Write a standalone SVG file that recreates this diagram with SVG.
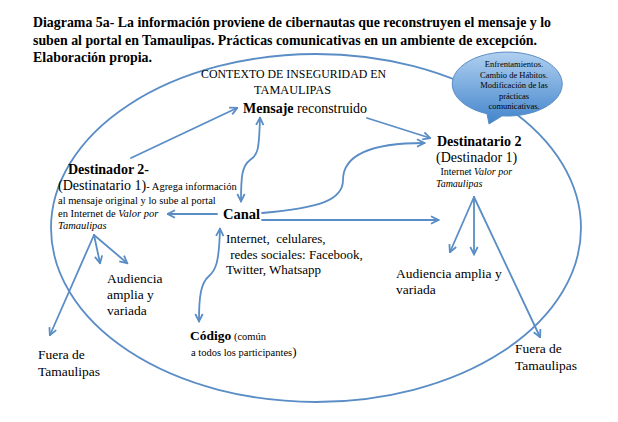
<svg xmlns="http://www.w3.org/2000/svg" width="618" height="422" viewBox="0 0 618 422">
<style>
.t{font-family:"Liberation Serif","Times New Roman",serif;fill:#000}
.b{font-weight:bold}
.i{font-style:italic}
.ln{fill:none;stroke:#5a8dc6;stroke-width:1.8;stroke-linecap:round}
.ar{marker-end:url(#ah)}
.da{marker-start:url(#ah);marker-end:url(#ah)}
</style>
<defs>
<marker id="ah" viewBox="0 0 10 10" refX="8.5" refY="5" markerWidth="10" markerHeight="10" markerUnits="userSpaceOnUse" orient="auto-start-reverse">
<path d="M1.5,1.3 L8.8,5 L1.5,8.7" fill="none" stroke="#5a8dc6" stroke-width="1.8" stroke-linejoin="miter"/>
</marker>
<linearGradient id="bub" x1="0" y1="0" x2="0" y2="1">
<stop offset="0" stop-color="#b0d0f0"/>
<stop offset="1" stop-color="#4284cc"/>
</linearGradient>
</defs>
<rect width="618" height="422" fill="#fff"/>

<g id="title" class="t b" font-size="14">
<text x="33" y="27" textLength="518" lengthAdjust="spacingAndGlyphs">Diagrama 5a- La información proviene de cibernautas que reconstruyen el mensaje y lo</text>
<text x="33" y="44.5" textLength="504" lengthAdjust="spacingAndGlyphs">suben al portal en Tamaulipas. Prácticas comunicativas en un ambiente de excepción.</text>
<text x="33" y="62" textLength="119" lengthAdjust="spacingAndGlyphs">Elaboración propia.</text>
</g>

<g id="contexto">
<ellipse cx="316" cy="228" rx="265" ry="174" class="ln" stroke-width="1.6"/>
<text class="t" font-size="13" x="201" y="78" textLength="185" lengthAdjust="spacingAndGlyphs">CONTEXTO DE INSEGURIDAD EN</text>
<text class="t" font-size="13" x="254" y="94" textLength="77" lengthAdjust="spacingAndGlyphs">TAMAULIPAS</text>
</g>

<g id="callout">
<path d="M502,115.9 A55,32 0 1 0 487,113.8 L489,124 Z" fill="url(#bub)" stroke="#5a8dc6" stroke-width="1"/>
<g class="t" font-size="8.5" text-anchor="middle" fill="#111">
<text x="514" y="67">Enfrentamientos.</text>
<text x="514" y="77.5">Cambio de Hábitos.</text>
<text x="514" y="88">Modificación de las</text>
<text x="514" y="98.5">prácticas</text>
<text x="514" y="109">comunicativas.</text>
</g>
</g>

<g id="mensaje">
<text class="t" font-size="14" x="243" y="113"><tspan class="b">Mensaje</tspan> reconstruido</text>
</g>

<g id="destinador2">
<text class="t b" font-size="14" x="68" y="174">Destinador 2-</text>
<text class="t" font-size="14" x="58" y="190">(Destinatario 1)<tspan font-size="10.5">- Agrega información</tspan></text>
<text class="t" font-size="10.5" x="58" y="203.5">al mensaje original y lo sube al portal</text>
<text class="t" font-size="10.5" x="58" y="216.5">en Internet de <tspan class="i">Valor por</tspan></text>
<text class="t i" font-size="10.5" x="58" y="229">Tamaulipas</text>
</g>

<g id="canal">
<text class="t b" font-size="14.5" x="223" y="219">Canal</text>
<text class="t" font-size="13" x="226" y="243" xml:space="preserve">Internet,  celulares,</text>
<text class="t" font-size="13" x="227" y="258.5" xml:space="preserve"> redes sociales: Facebook,</text>
<text class="t" font-size="13" x="226" y="274">Twitter, Whatsapp</text>
</g>

<g id="destinatario2">
<text class="t b" font-size="14" x="437" y="146">Destinatario 2</text>
<text class="t" font-size="14" x="436" y="162">(Destinador 1)</text>
<text class="t" font-size="10" x="438" y="175" xml:space="preserve"> Internet <tspan class="i">Valor por</tspan></text>
<text class="t i" font-size="10" x="436" y="187">Tamaulipas</text>
</g>

<g id="codigo">
<text class="t" font-size="13.5" x="190" y="340"><tspan class="b">Código</tspan><tspan font-size="10.5"> (común</tspan></text>
<text class="t" font-size="10.5" x="191" y="356">a todos los participantes<tspan font-size="13">)</tspan></text>
</g>

<g id="audiencia-izq">
<text class="t" font-size="13.5" x="107" y="283">Audiencia</text>
<text class="t" font-size="13.5" x="107" y="299">amplia y</text>
<text class="t" font-size="13.5" x="107" y="315">variada</text>
</g>

<g id="audiencia-der">
<text class="t" font-size="13.5" x="396" y="278">Audiencia amplia y</text>
<text class="t" font-size="13.5" x="396" y="294">variada</text>
</g>

<g id="fuera-izq">
<text class="t" font-size="13.5" x="38" y="359">Fuera de</text>
<text class="t" font-size="13.5" x="38" y="376">Tamaulipas</text>
</g>

<g id="fuera-der">
<text class="t" font-size="13.5" x="515" y="353">Fuera de</text>
<text class="t" font-size="13.5" x="515" y="370">Tamaulipas</text>
</g>

<g id="connectors">
<path class="ln ar" d="M131,158 L237,108"/>
<path class="ln ar" d="M367,118 L430,138"/>
<path class="ln da" d="M260,118 C259,150 258,155 250,160 C242,166 241,176 241,201"/>
<path class="ln ar" d="M217,214 L168,214"/>
<path class="ln ar" d="M262,213 C320,208 343,200 343,180 C343,155 370,143 424,143"/>
<path class="ln ar" d="M262,220 L438,220"/>
<path class="ln da" d="M220,229 C219,262 216,270 209,276 C201,283 199,295 199,321"/>
<path class="ln ar" d="M94,235 L100,263"/>
<path class="ln ar" d="M94,235 L127,263"/>
<path class="ln ar" d="M94,235 L50,335"/>
<path class="ln ar" d="M474,197 L450,252"/>
<path class="ln ar" d="M474,197 L474,254"/>
<path class="ln ar" d="M474,197 L540,337"/>
</g>
</svg>
